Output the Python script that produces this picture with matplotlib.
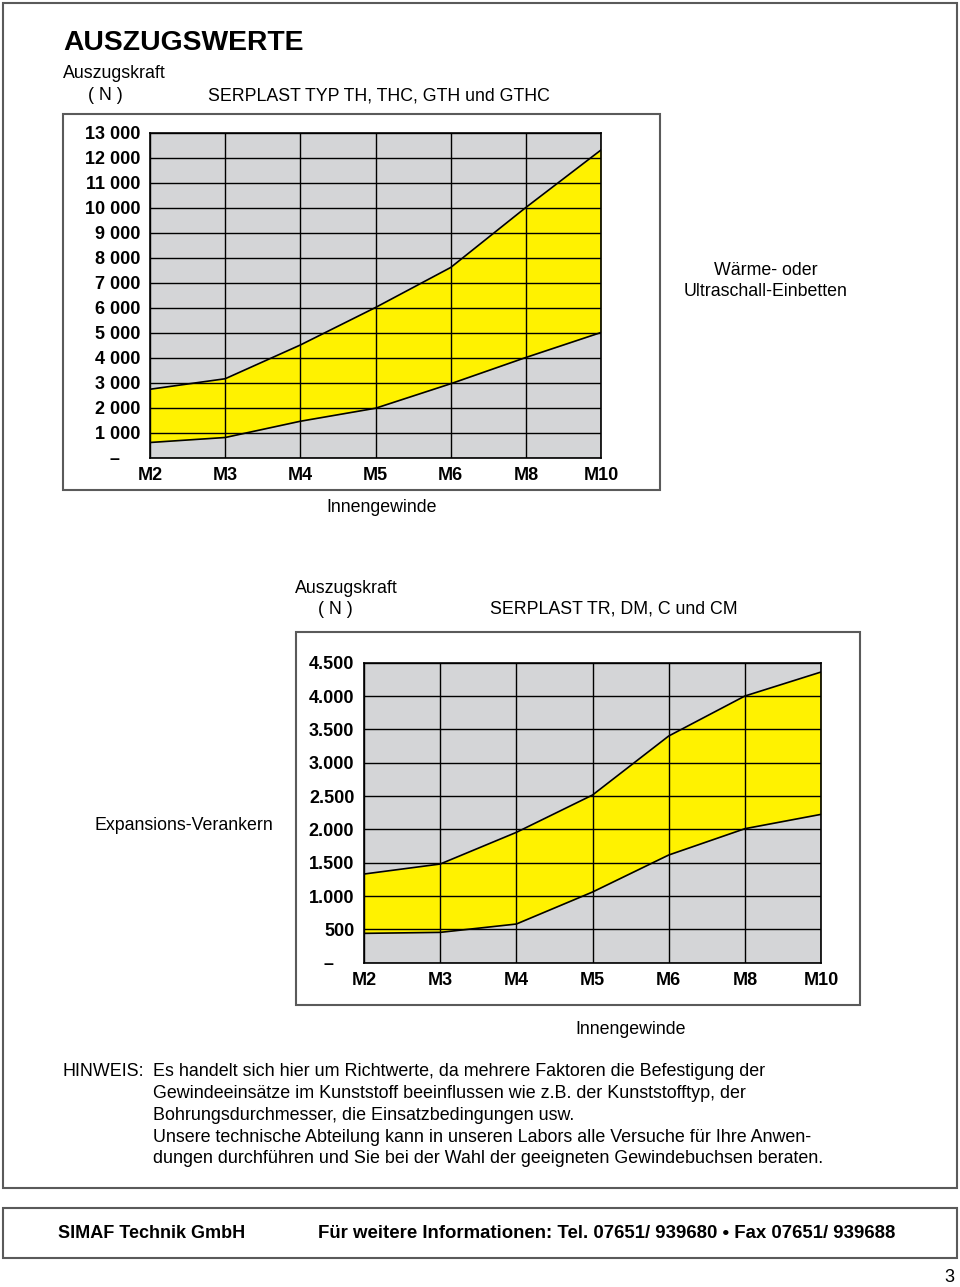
import numpy as np
import matplotlib.pyplot as plt
from matplotlib.patches import Rectangle

W, H = 960, 1287
plt.rcParams['font.family'] = ['Liberation Sans', 'DejaVu Sans']

threads = ['M2', 'M3', 'M4', 'M5', 'M6', 'M8', 'M10']

# SERPLAST TYP TH, THC, GTH und GTHC (N)
th_upper = [2730, 3150, 4500, 6000, 7600, 10000, 12300]
th_lower = [600, 800, 1450, 1970, 2950, 4000, 5000]
th_ticks = list(range(0, 13001, 1000))

# SERPLAST TR, DM, C und CM (N)
tr_upper = [1330, 1480, 1955, 2515, 3400, 4000, 4360]
tr_lower = [440, 455, 580, 1060, 1615, 2010, 2225]
tr_ticks = list(range(0, 4501, 500))

hinweis = [
    "Es handelt sich hier um Richtwerte, da mehrere Faktoren die Befestigung der",
    "Gewindeeinsätze im Kunststoff beeinflussen wie z.B. der Kunststofftyp, der",
    "Bohrungsdurchmesser, die Einsatzbedingungen usw.",
    "Unsere technische Abteilung kann in unseren Labors alle Versuche für Ihre Anwen-",
    "dungen durchführen und Sie bei der Wahl der geeigneten Gewindebuchsen beraten.",
]

fig = plt.figure(figsize=(W / 100, H / 100), dpi=100)


def px_axes(x0, y0, x1, y1):
    return fig.add_axes([x0 / W, 1 - y1 / H, (x1 - x0) / W, (y1 - y0) / H])


def box(x0, y0, x1, y1, lw=1.5, color='#5a5a5a'):
    fig.patches.append(Rectangle((x0 / W, 1 - y1 / H), (x1 - x0) / W, (y1 - y0) / H,
                                 transform=fig.transFigure, fill=False, lw=lw, ec=color))


def txt(x, y, s, **kw):
    kw.setdefault('fontsize', 12.8)
    fig.text(x / W, 1 - y / H, s, va='center', **kw)


def band_chart(ax, upper, lower, ticks, sep):
    x = np.arange(len(threads))
    ax.set_facecolor('#d4d5d7')
    ax.fill_between(x, lower, upper, color='#fff200', lw=0, zorder=1)
    ax.plot(x, upper, color='black', lw=1.2, zorder=3)
    ax.plot(x, lower, color='black', lw=1.2, zorder=3)
    ax.set_xlim(0, len(threads) - 1)
    ax.set_ylim(0, ticks[-1])
    ax.set_xticks(x, threads)
    labels = ['–    '] + [f"{t:,}".replace(',', sep) for t in ticks[1:]]
    ax.set_yticks(ticks, labels)
    ax.set_axisbelow(False)
    ax.grid(True, color='black', lw=1)
    ax.tick_params(length=0, labelsize=13, pad=7)
    for lab in ax.get_xticklabels() + ax.get_yticklabels():
        lab.set_fontweight('bold')
    for s in ax.spines.values():
        s.set_linewidth(1.2)


# page frame and footer frame
box(3, 3, 957, 1188)
box(3, 1208, 957, 1258)

# header
txt(63, 43, "AUSZUGSWERTE", fontsize=20.3, fontweight='bold')
txt(63, 74, "Auszugskraft")
txt(88, 96, "( N )")
txt(208, 96, "SERPLAST TYP TH, THC, GTH und GTHC")

# upper chart
box(63, 114, 660, 490)
ax1 = px_axes(150, 132.5, 601, 457.5)
band_chart(ax1, th_upper, th_lower, th_ticks, ' ')
txt(766, 271, "Wärme- oder", ha='center')
txt(766, 292, "Ultraschall-Einbetten", ha='center')
txt(382, 508, "Innengewinde", ha='center')

# lower chart
txt(295, 588, "Auszugskraft")
txt(318, 609, "( N )")
txt(490, 609, "SERPLAST TR, DM, C und CM")
box(296, 632, 860, 1005)
ax2 = px_axes(364, 662.7, 821, 962.7)
band_chart(ax2, tr_upper, tr_lower, tr_ticks, '.')
txt(95, 826, "Expansions-Verankern")
txt(631, 1029, "Innengewinde", ha='center')

# note
txt(63, 1072, "HINWEIS:", fontsize=12.9)
for i, line in enumerate(hinweis):
    txt(153, 1072 + 21.7 * i, line, fontsize=12.9)

# footer
txt(58, 1234, "SIMAF Technik GmbH", fontsize=13, fontweight='bold')
txt(318, 1234, "Für weitere Informationen: Tel. 07651/ 939680 • Fax 07651/ 939688",
    fontsize=13.4, fontweight='bold')
txt(954, 1277, "3", ha='right', fontsize=13)

fig.savefig('out.png', dpi=100)
